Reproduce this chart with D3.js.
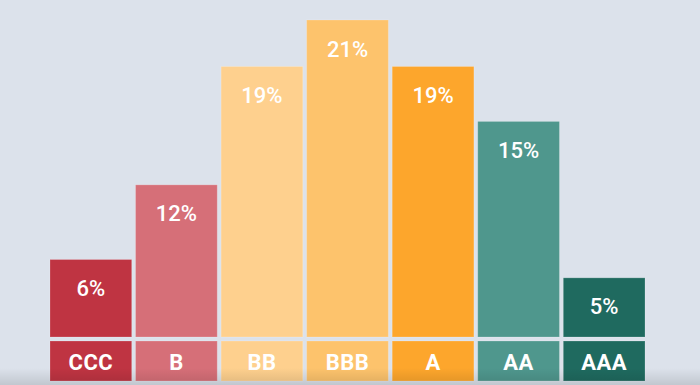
<!DOCTYPE html>
<html>
<head>
<meta charset="utf-8">
<script src="https://cdn.jsdelivr.net/npm/d3@7"></script>
<style>
  html, body { margin: 0; padding: 0; background: #dce2eb; }
  svg { display: block; }
</style>
</head>
<body>
<svg id="chart"></svg>
<script>
// rating buckets
const ratings = ["CCC", "B", "BB", "BBB", "A", "AA", "AAA"];
// bar heights (in %)
const shares = [5.5, 10.8, 19.2, 22.5, 19.2, 15.3, 4.2];
// the percentages printed on the bars
const shareLabels = ["6%", "12%", "19%", "21%", "19%", "15%", "5%"];
const colors = ["#bf3442", "#d66f78", "#fed08e", "#fdc36c", "#fda62c", "#4f978d", "#1f6a5f"];

const width = 700;
const height = 385;

const svg = d3.select("#chart")
  .attr("width", width)
  .attr("height", height);

const x = d3.scaleBand()
  .domain(ratings)
  .range([50, 645])
  .paddingInner(0.045);

const y = d3.scaleLinear()
  .domain([0, 22.5])
  .range([337, 20]);

// the bars
svg.selectAll("rect.bar")
  .data(ratings)
  .enter()
  .append("rect")
  .attr("class", "bar")
  .attr("x", d => x(d))
  .attr("width", x.bandwidth())
  .attr("y", (d, i) => y(shares[i]))
  .attr("height", (d, i) => y(0) - y(shares[i]))
  .attr("fill", (d, i) => colors[i])
  .attr("stroke", "rgba(255,255,255,0.2)")
  .attr("stroke-width", 1);

// value labels inside bars
svg.selectAll("text.val")
  .data(ratings)
  .enter()
  .append("text")
  .attr("class", "val")
  .attr("x", d => x(d) + x.bandwidth() / 2)
  .attr("y", (d, i) => y(shares[i]) + 29)
  .attr("text-anchor", "middle")
  .attr("dominant-baseline", "central")
  .attr("fill", "#fff")
  .style("font-family", "Roboto, sans-serif")
  .style("font-weight", "500")
  .style("font-size", "22px")
  .text((d, i) => shareLabels[i]);

// category boxes under the bars
svg.selectAll("rect.cat")
  .data(ratings)
  .enter()
  .append("rect")
  .attr("class", "cat")
  .attr("x", d => x(d))
  .attr("width", x.bandwidth())
  .attr("y", 341)
  .attr("height", 40)
  .attr("fill", (d, i) => colors[i])
  .attr("stroke", "rgba(255,255,255,0.2)")
  .attr("stroke-width", 1);

svg.selectAll("text.cat")
  .data(ratings)
  .enter()
  .append("text")
  .attr("class", "cat")
  .attr("x", d => x(d) + x.bandwidth() / 2)
  .attr("y", 362)
  .attr("text-anchor", "middle")
  .attr("dominant-baseline", "central")
  .attr("fill", "#fff")
  .style("font-family", "Roboto, sans-serif")
  .style("font-weight", "bold")
  .style("font-size", "22px")
  .style("letter-spacing", "0.5px")
  .text(d => d);

// faint shadow along the bottom edge
const grad = svg.append("defs").append("linearGradient")
  .attr("id", "shade")
  .attr("x1", 0).attr("y1", 0).attr("x2", 0).attr("y2", 1);
grad.append("stop").attr("offset", "0%").attr("stop-color", "#000").attr("stop-opacity", 0);
grad.append("stop").attr("offset", "100%").attr("stop-color", "#000").attr("stop-opacity", 0.12);

svg.append("rect")
  .attr("x", 0)
  .attr("y", 368)
  .attr("width", width)
  .attr("height", height - 368)
  .attr("fill", "url(#shade)");
</script>
</body>
</html>
